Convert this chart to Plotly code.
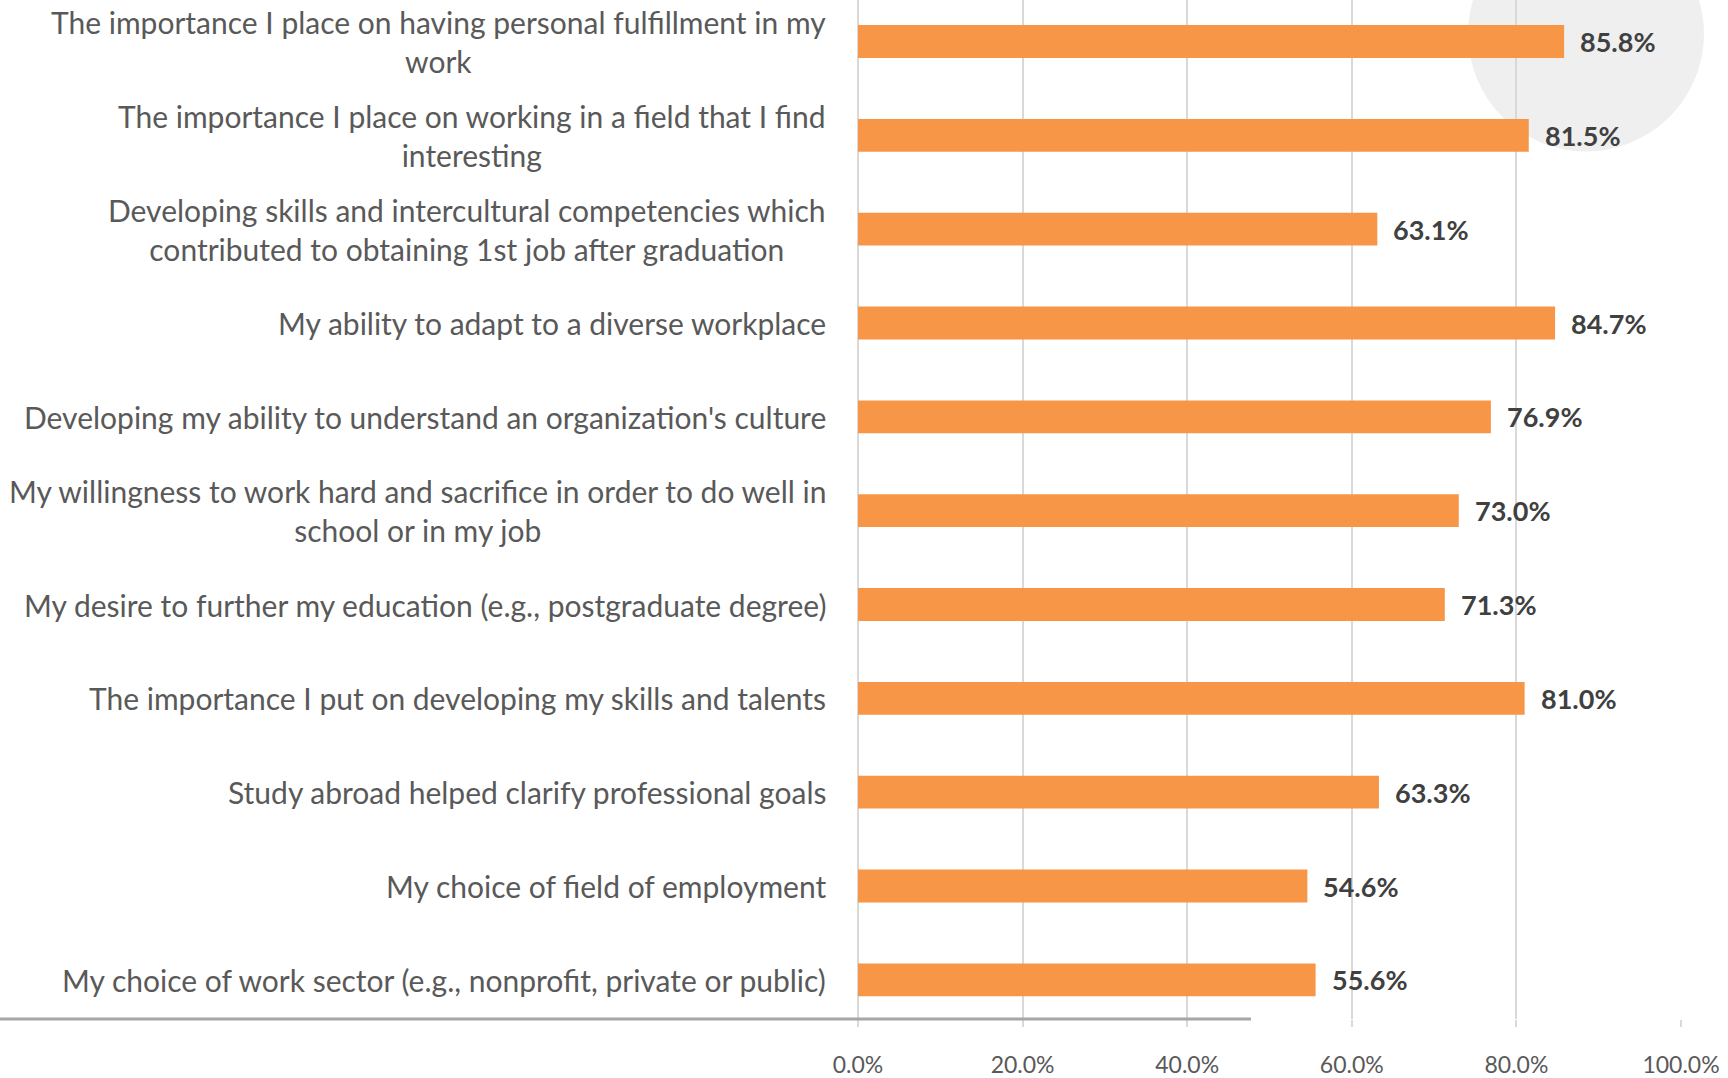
import plotly.graph_objects as go

# Survey items, listed top to bottom
categories = [
    "The importance I place on having personal fulfillment in my<br>work",
    "The importance I place on working in a field that I find<br>interesting",
    "Developing skills and intercultural competencies which<br>contributed to obtaining 1st job after graduation",
    "My ability to adapt to a diverse workplace",
    "Developing my ability to understand an organization's culture",
    "My willingness to work hard and sacrifice in order to do well in<br>school or in my job",
    "My desire to further my education (e.g., postgraduate degree)",
    "The importance I put on developing my skills and talents",
    "Study abroad helped clarify professional goals",
    "My choice of field of employment",
    "My choice of work sector (e.g., nonprofit, private or public)",
]
values = [85.8, 81.5, 63.1, 84.7, 76.9, 73.0, 71.3, 81.0, 63.3, 54.6, 55.6]

tick_values = [0, 20, 40, 60, 80, 100]
tick_labels = ["0.0%", "20.0%", "40.0%", "60.0%", "80.0%", "100.0%"]

# Page geometry (pixels)
W, H = 1728, 1078
PLOT_LEFT, PLOT_RIGHT = 858, 1681
PLOT_TOP, PLOT_BOTTOM = 0, 1023
ROW_PX = 94.2
FIRST_ROW_PX = 41.7

FONT = "Lato"
BAR_COLOR = "#F79646"
LABEL_COLOR = "#595959"
VALUE_COLOR = "#404040"
GRID_COLOR = "#D9D9D9"

plot_w = PLOT_RIGHT - PLOT_LEFT
plot_h = PLOT_BOTTOM - PLOT_TOP
top_val = -FIRST_ROW_PX / ROW_PX
bottom_val = top_val + plot_h / ROW_PX


def px_to_paper_x(px):
    return (px - PLOT_LEFT) / plot_w


def px_to_paper_y(py):
    return (PLOT_BOTTOM - py) / plot_h


fig = go.Figure(
    go.Bar(
        x=values,
        y=categories,
        orientation="h",
        marker=dict(color=BAR_COLOR, line=dict(width=0)),
        width=0.35,
        hoverinfo="skip",
    )
)

annotations = []
# Category labels, right-aligned block with centered lines
for cat in categories:
    annotations.append(
        dict(
            x=0, xref="paper", y=cat, yref="y",
            xanchor="right", yanchor="middle", xshift=-30,
            text=cat, align="center", showarrow=False,
            font=dict(family=FONT, size=30, color=LABEL_COLOR),
        )
    )
# Value labels at the end of each bar
for cat, v in zip(categories, values):
    annotations.append(
        dict(
            x=v, xref="x", y=cat, yref="y",
            xanchor="left", yanchor="middle", xshift=14,
            text=f"<b>{v:.1f}%</b>", showarrow=False,
            font=dict(family=FONT, size=27, color=VALUE_COLOR),
        )
    )

shapes = [
    # soft grey disc behind the top-right corner
    dict(
        type="circle", xref="paper", yref="paper", layer="below",
        x0=px_to_paper_x(1586 - 118), x1=px_to_paper_x(1586 + 118),
        y0=px_to_paper_y(34 + 118), y1=px_to_paper_y(34 - 118),
        fillcolor="#EFEFEF", line=dict(width=0),
    ),
    # baseline rule along the bottom
    dict(
        type="line", xref="paper", yref="paper", layer="above",
        x0=px_to_paper_x(0), x1=px_to_paper_x(1251),
        y0=0, y1=0,
        line=dict(color="#A6A6A6", width=3),
    ),
]

fig.update_layout(
    width=W, height=H,
    margin=dict(l=PLOT_LEFT, r=W - PLOT_RIGHT, t=PLOT_TOP, b=H - PLOT_BOTTOM, pad=0),
    paper_bgcolor="white",
    plot_bgcolor="rgba(0,0,0,0)",
    showlegend=False,
    annotations=annotations,
    shapes=shapes,
    font=dict(family=FONT, color=LABEL_COLOR),
)
fig.update_xaxes(
    range=[0, 100],
    tickvals=tick_values, ticktext=tick_labels,
    showgrid=True, gridcolor=GRID_COLOR, gridwidth=1.5,
    zeroline=True, zerolinecolor=GRID_COLOR, zerolinewidth=1.5,
    showline=False,
    ticks="outside", ticklen=7, tickcolor=GRID_COLOR, tickwidth=1.5,
    ticklabelstandoff=18,
    tickfont=dict(family=FONT, size=23, color=LABEL_COLOR),
    fixedrange=True,
)
fig.update_yaxes(
    type="category",
    categoryorder="array", categoryarray=categories,
    range=[bottom_val, top_val],
    showticklabels=False, showgrid=False, zeroline=False, showline=False,
    fixedrange=True,
)

fig.write_html("out.html", config={"displayModeBar": False})
